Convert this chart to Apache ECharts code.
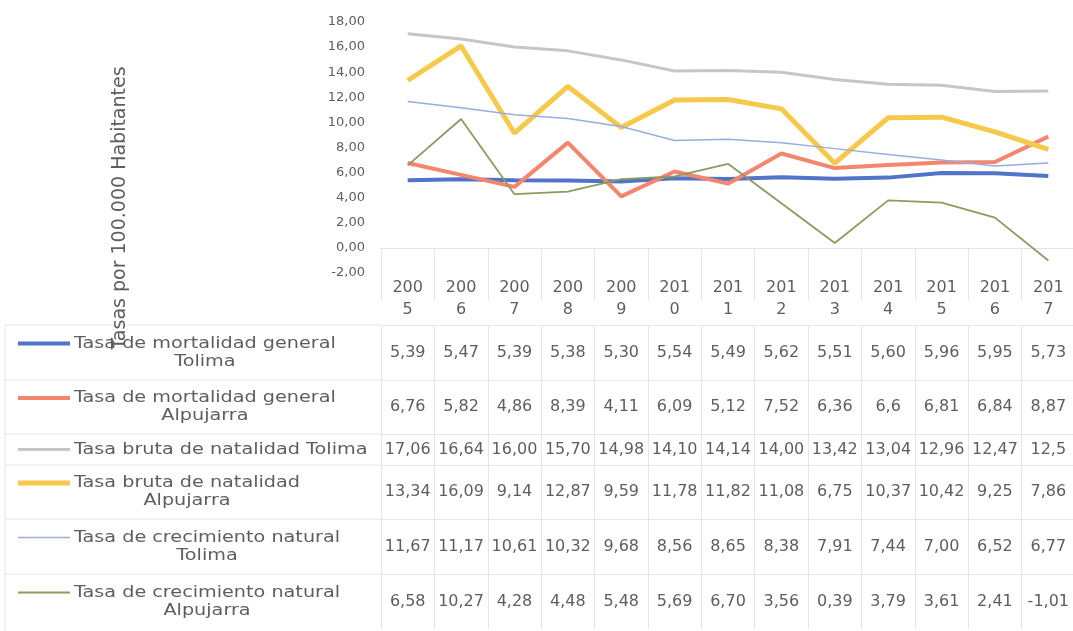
<!DOCTYPE html>
<html>
<head>
<meta charset="utf-8">
<title>Tasas Tolima - Alpujarra</title>
<script src="https://cdn.jsdelivr.net/npm/echarts@6/dist/echarts.min.js"></script>
<style>
  html, body { margin: 0; padding: 0; background: #fff; }
  #chart { width: 1073px; height: 631px; }
</style>
</head>
<body>
<div id="chart"></div>
<script>
  // categorias (años)
  const years = ['2005', '2006', '2007', '2008', '2009', '2010', '2011', '2012', '2013', '2014', '2015', '2016', '2017'];

  // valores tal como aparecen en la tabla de datos
  const mortTolima    = ['5,39', '5,47', '5,39', '5,38', '5,30', '5,54', '5,49', '5,62', '5,51', '5,60', '5,96', '5,95', '5,73'];
  const mortAlpujarra = ['6,76', '5,82', '4,86', '8,39', '4,11', '6,09', '5,12', '7,52', '6,36', '6,6', '6,81', '6,84', '8,87'];
  const natTolima     = ['17,06', '16,64', '16,00', '15,70', '14,98', '14,10', '14,14', '14,00', '13,42', '13,04', '12,96', '12,47', '12,5'];
  const natAlpujarra  = ['13,34', '16,09', '9,14', '12,87', '9,59', '11,78', '11,82', '11,08', '6,75', '10,37', '10,42', '9,25', '7,86'];
  const crecTolima    = ['11,67', '11,17', '10,61', '10,32', '9,68', '8,56', '8,65', '8,38', '7,91', '7,44', '7,00', '6,52', '6,77'];
  const crecAlpujarra = ['6,58', '10,27', '4,28', '4,48', '5,48', '5,69', '6,70', '3,56', '0,39', '3,79', '3,61', '2,41', '-1,01'];

  // eje y
  const yMin = -2, yMax = 18, yStep = 2;

  const seriesNames = [
    ['Tasa de mortalidad general', 'Tolima'],
    ['Tasa de mortalidad general', 'Alpujarra'],
    ['Tasa bruta de natalidad Tolima'],
    ['Tasa bruta de natalidad', 'Alpujarra'],
    ['Tasa de crecimiento natural', 'Tolima'],
    ['Tasa de crecimiento natural', 'Alpujarra']
  ];
  const seriesData = [mortTolima, mortAlpujarra, natTolima, natAlpujarra, crecTolima, crecAlpujarra];
  const colors = ['#5174c8', '#f3866c', '#c6c6c6', '#f7c94a', '#97aedd', '#8d9b5f'];
  const widths = [4, 4, 3, 5, 1.5, 1.8];

  const toNum = s => parseFloat(s.replace(',', '.'));

  // posiciones
  const gridLeft = 381, gridTop = 22, gridW = 694, gridH = 251;
  const tableTop = gridTop + gridH;
  const headerH = 52;
  const rowH = [55, 54, 31, 54, 55, 55];
  const txt = '#5e5e5e';
  const lineCol = '#e6e6e6';
  const font = '"DejaVu Sans", sans-serif';
  const legScale = 1.2;

  const measure = (function () {
    const ctx = document.createElement('canvas').getContext('2d');
    return function (s, size) {
      ctx.font = size + 'px "DejaVu Sans"';
      return ctx.measureText(s).width;
    };
  })();

  const xAxes = [{
    type: 'category',
    data: years,
    gridIndex: 0,
    position: 'bottom',
    offset: 0,
    axisLine: { show: true, lineStyle: { color: lineCol, width: 1 } },
    axisTick: { show: true, length: headerH, lineStyle: { color: lineCol } },
    axisLabel: {
      interval: 0,
      margin: headerH / 2,
      verticalAlign: 'middle',
      color: txt,
      fontSize: 16,
      fontFamily: font,
      lineHeight: 22,
      formatter: v => v.slice(0, 3) + '\n' + v.slice(3)
    }
  }];

  const graphics = [];
  let off = headerH;
  seriesData.forEach((arr, i) => {
    const h = rowH[i];
    xAxes.push({
      type: 'category',
      data: years,
      gridIndex: 0,
      position: 'bottom',
      offset: off,
      axisLine: { show: true, lineStyle: { color: lineCol, width: 1 } },
      axisTick: { show: true, length: h, lineStyle: { color: lineCol } },
      axisLabel: {
        interval: 0,
        margin: h / 2,
        verticalAlign: 'middle',
        color: txt,
        fontSize: 16,
        fontFamily: font,
        formatter: (v, idx) => arr[idx]
      }
    });

    const top = tableTop + off;
    const mid = top + h / 2;
    const lines = seriesNames[i];
    const keyY = lines.length > 1 ? mid - 9 : mid;
    const w = Math.max(...lines.map(s => measure(s, 16))) * legScale;

    graphics.push({
      type: 'line',
      shape: { x1: 5, y1: top, x2: gridLeft, y2: top },
      style: { stroke: lineCol, lineWidth: 1 },
      silent: true
    });
    graphics.push({
      type: 'line',
      shape: { x1: 18, y1: keyY, x2: 70, y2: keyY },
      style: { stroke: colors[i], lineWidth: widths[i] },
      silent: true
    });
    graphics.push({
      type: 'text',
      x: 74 + w / 2,
      y: mid,
      scaleX: legScale,
      z: 10,
      style: {
        text: lines.join('\n'),
        fill: txt,
        font: '16px ' + font,
        align: 'center',
        verticalAlign: 'middle',
        lineHeight: 18
      },
      silent: true
    });
    off += h;
  });

  // borde izquierdo de la tabla
  graphics.push({
    type: 'line',
    shape: { x1: 5, y1: tableTop + headerH, x2: 5, y2: 631 },
    style: { stroke: lineCol, lineWidth: 1 },
    silent: true
  });
  // título del eje y
  graphics.push({
    type: 'text',
    x: 120,
    y: 208,
    rotation: Math.PI / 2,
    z: 1,
    style: {
      text: 'Tasas por 100.000 Habitantes',
      fill: txt,
      font: '19px ' + font,
      align: 'center',
      verticalAlign: 'middle'
    },
    silent: true
  });

  const series = seriesData.map((arr, i) => ({
    name: seriesNames[i].join(' '),
    type: 'line',
    data: arr.map(toNum),
    xAxisIndex: 0,
    symbol: 'none',
    lineStyle: { color: colors[i], width: widths[i] },
    itemStyle: { color: colors[i] },
    z: 2 + i
  }));
  series[0].markLine = {
    silent: true,
    symbol: 'none',
    label: { show: false },
    lineStyle: { color: '#e3e3e3', width: 1, type: 'solid' },
    data: [{ yAxis: 0 }]
  };

  const myChart = echarts.init(document.getElementById('chart'));
  const option = {
    animation: false,
    backgroundColor: '#fff',
    grid: { left: gridLeft, top: gridTop, width: gridW, height: gridH, containLabel: false, outerBoundsMode: 'none' },
    xAxis: xAxes,
    yAxis: {
      type: 'value',
      min: yMin,
      max: yMax,
      interval: yStep,
      axisLine: { show: false },
      axisTick: { show: false },
      splitLine: { show: false },
      axisLabel: {
        margin: 16,
        color: txt,
        fontSize: 13,
        fontFamily: font,
        formatter: v => v.toFixed(2).replace('.', ',')
      }
    },
    graphic: graphics,
    series: series
  };
  myChart.setOption(option);
</script>
</body>
</html>
